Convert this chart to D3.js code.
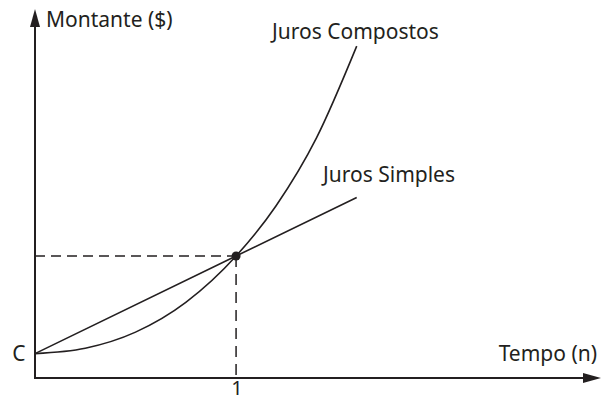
<!DOCTYPE html>
<html>
<head>
<meta charset="utf-8">
<script src="https://cdn.jsdelivr.net/npm/d3@7"></script>
<style>
  body { margin: 0; background: #fff; }
  svg text { font-family: "Noto Sans", sans-serif; fill: #231f20; }
</style>
</head>
<body>
<svg id="chart" width="601" height="401"></svg>
<script>
// compound interest curve (n in periods, M in arbitrary units)
const compostoN = [0, 0.25, 0.5, 0.75, 1, 1.2, 1.4, 1.6];
const compostoM = [1, 1.22, 1.88, 3.1, 5, 7.07, 9.84, 13.6];
// simple interest is a straight line
const simplesN = [0, 1, 1.6];
const simplesM = [1, 5, 7.4];

const capital = 1;
const marcaN = 1;
const marcaM = 5;

const ink = "#231f20";
const svg = d3.select("#chart");

const x = d3.scaleLinear().domain([0, 2.8]).range([35, 598]);
const y = d3.scaleLinear().domain([0, 15]).range([378, 12]);

const line = d3.line()
    .x(d => x(d[0]))
    .y(d => y(d[1]));

// dashed guides
svg.append("line")
    .attr("x1", x(0)).attr("x2", x(marcaN))
    .attr("y1", y(marcaM)).attr("y2", y(marcaM))
    .attr("stroke", ink).attr("stroke-width", 1.5)
    .attr("stroke-dasharray", "10,6");
svg.append("line")
    .attr("x1", x(marcaN)).attr("x2", x(marcaN))
    .attr("y1", y(marcaM)).attr("y2", y(0))
    .attr("stroke", ink).attr("stroke-width", 1.5)
    .attr("stroke-dasharray", "11,7");

// curves
svg.append("path")
    .datum(compostoN.map((n, i) => [n, compostoM[i]]))
    .attr("d", line.curve(d3.curveMonotoneX))
    .attr("fill", "none").attr("stroke", ink).attr("stroke-width", 1.6);

svg.append("path")
    .datum(simplesN.map((n, i) => [n, simplesM[i]]))
    .attr("d", line.curve(d3.curveLinear))
    .attr("fill", "none").attr("stroke", ink).attr("stroke-width", 1.6);

svg.append("circle")
    .attr("cx", x(marcaN)).attr("cy", y(marcaM)).attr("r", 4.5)
    .attr("fill", ink);

// axes with arrow heads
const x0 = x(0), y0 = y(0);
svg.append("line")
    .attr("x1", x0).attr("x2", x0)
    .attr("y1", y0 + 1).attr("y2", 25)
    .attr("stroke", ink).attr("stroke-width", 2);
svg.append("path")
    .attr("d", `M${x0},9 L${x0 - 5},27 L${x0 + 5},27 Z`)
    .attr("fill", ink);

svg.append("line")
    .attr("x1", x0 - 1).attr("x2", 590)
    .attr("y1", y0).attr("y2", y0)
    .attr("stroke", ink).attr("stroke-width", 2);
svg.append("path")
    .attr("d", `M601,${y0} L583,${y0 - 5} L583,${y0 + 5} Z`)
    .attr("fill", ink);

// texts
const fs = 21;
svg.append("text").attr("x", 46).attr("y", 27)
    .attr("font-size", fs).text("Montante ($)");
svg.append("text").attr("x", 597).attr("y", 361)
    .attr("text-anchor", "end")
    .attr("font-size", fs).text("Tempo (n)");
svg.append("text").attr("x", 272).attr("y", 39)
    .attr("font-size", fs).text("Juros Compostos");
svg.append("text").attr("x", 323).attr("y", 182)
    .attr("font-size", fs).text("Juros Simples");
svg.append("text").attr("x", 19).attr("y", y(capital) + 7)
    .attr("text-anchor", "middle")
    .attr("font-size", fs).text("C");
svg.append("text").attr("x", x(marcaN) + 1).attr("y", 395)
    .attr("text-anchor", "middle")
    .attr("font-size", 20).text("1");
</script>
</body>
</html>
